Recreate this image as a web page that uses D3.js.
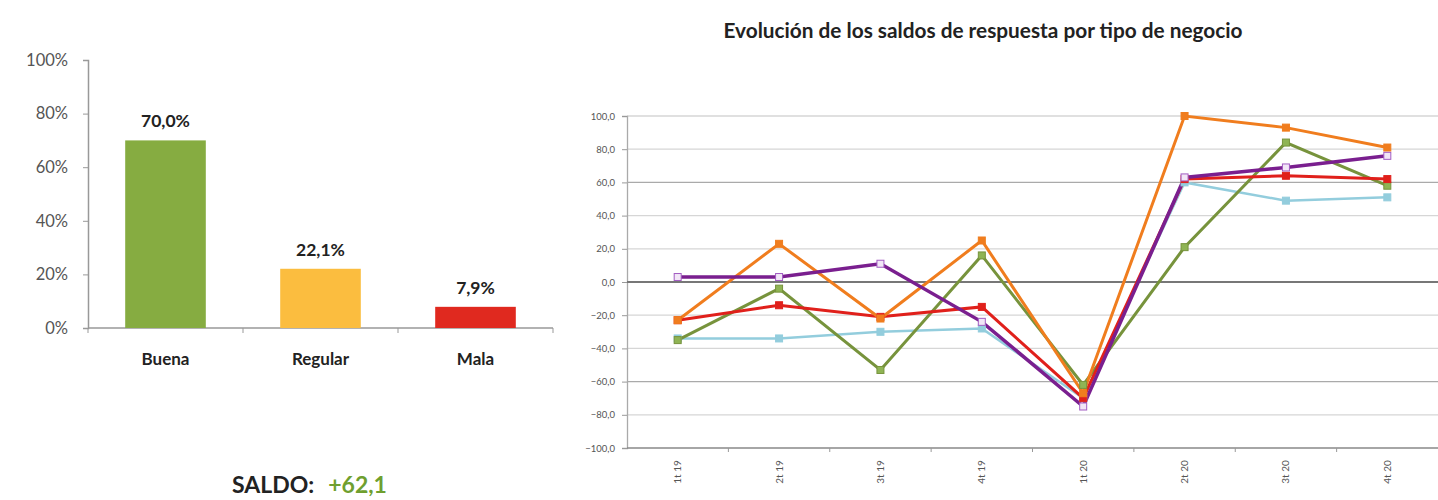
<!DOCTYPE html>
<html><head><meta charset="utf-8">
<script src="https://cdn.jsdelivr.net/npm/d3@7"></script>
<style>
html,body{margin:0;padding:0;background:#fff;}
svg{display:block;font-family:Lato,"Open Sans",sans-serif;}
</style></head>
<body>
<svg id="c" width="1438" height="500"></svg>
<script>
// ---- Data: left bar chart ----
const barCategories = ["Buena", "Regular", "Mala"];
const barValues = [70.0, 22.1, 7.9];
const barColors = ["#86ac41", "#fbbd3f", "#e0291f"];
const barTicks = [0, 20, 40, 60, 80, 100];
const saldoLabel = "SALDO:";
const saldoValue = "+62,1";

// ---- Data: right line chart ----
const quarters = ["1t 19", "2t 19", "3t 19", "4t 19", "1t 20", "2t 20", "3t 20", "4t 20"];
const lineTicks = [-100, -80, -60, -40, -20, 0, 20, 40, 60, 80, 100];
const seriesCyan   = [-34, -34, -30, -28, -70, 60, 49, 51];
const seriesGreen  = [-35, -4, -53, 16, -62, 21, 84, 58];
const seriesRed    = [-23, -14, -21, -15, -70, 62, 64, 62];
const seriesOrange = [-23, 23, -22, 25, -67, 100, 93, 81];
const seriesPurple = [3, 3, 11, -24, -75, 63, 69, 76];
const lineTitle = "Evolución de los saldos de respuesta por tipo de negocio";

const fmt = v => d3.format(".1f")(v).replace(".", ",");

const svg = d3.select("#c");

// ================= Left bar chart =================
{
  const x0 = 88, x1 = 553, yTop = 60, yBot = 328;
  const x = d3.scaleBand().domain(barCategories).range([x0, x1]).paddingInner(0.48).paddingOuter(0.24);
  const y = d3.scaleLinear().domain([0, 100]).range([yBot, yTop]);
  const g = svg.append("g");

  const ya = g.append("g").attr("transform", `translate(${x0},0)`)
    .call(d3.axisLeft(y).tickValues(barTicks).tickSize(5).tickPadding(15).tickFormat(d => d + "%"));
  ya.select(".domain").attr("stroke", "#999").attr("stroke-width", 1.5);
  ya.selectAll(".tick line").attr("stroke", "#999");
  ya.selectAll("text").attr("font-size", 16.5).attr("fill", "#555").attr("font-family", "Lato");

  const xa = g.append("g").attr("transform", `translate(0,${yBot})`);
  xa.append("line").attr("x1", x0).attr("x2", x1).attr("stroke", "#999").attr("stroke-width", 1.5);
  const bounds = barCategories.map((c, i) => x0 + i * (x1 - x0) / barCategories.length).concat([x1]);
  xa.selectAll("line.tk").data(bounds).enter().append("line").attr("class", "tk")
    .attr("x1", d => d).attr("x2", d => d).attr("y1", 0).attr("y2", 5).attr("stroke", "#999");

  g.selectAll("rect.bar").data(barValues).enter().append("rect").attr("class", "bar")
    .attr("x", (d, i) => x(barCategories[i]))
    .attr("width", x.bandwidth())
    .attr("y", d => y(d))
    .attr("height", d => yBot - y(d))
    .attr("fill", (d, i) => barColors[i]);

  g.selectAll("text.val").data(barValues).enter().append("text").attr("class", "val")
    .attr("x", (d, i) => x(barCategories[i]) + x.bandwidth() / 2)
    .attr("y", d => y(d) - 13)
    .attr("text-anchor", "middle").attr("font-size", 17.5).attr("font-weight", "bold").attr("fill", "#222")
    .text(d => fmt(d) + "%");

  g.selectAll("text.cat").data(barCategories).enter().append("text").attr("class", "cat")
    .attr("x", d => x(d) + x.bandwidth() / 2)
    .attr("y", yBot + 37)
    .attr("text-anchor", "middle").attr("font-size", 17).attr("font-weight", "bold").attr("fill", "#222")
    .text(d => d);

  const s = g.append("text").attr("x", 232).attr("y", 493).attr("text-anchor", "start")
    .attr("font-size", 23).attr("font-weight", "bold");
  s.append("tspan").attr("fill", "#222").text(saldoLabel);
  s.append("tspan").attr("fill", "#6f9f2f").attr("dx", 14).text(saldoValue);
}

// ================= Right line chart =================
{
  const x0 = 627, x1 = 1438, yTop = 116, yBot = 448;
  const x = d3.scalePoint().domain(quarters).range([x0, x1]).padding(0.5);
  const y = d3.scaleLinear().domain([-100, 100]).range([yBot, yTop]);
  const g = svg.append("g");

  g.append("text").attr("x", 983).attr("y", 38).attr("text-anchor", "middle")
    .attr("font-size", 20.8).attr("font-weight", "bold").attr("fill", "#222").text(lineTitle);

  g.selectAll("line.grid").data(lineTicks.filter(t => t !== 0 && t !== -100)).enter().append("line").attr("class", "grid")
    .attr("x1", x0).attr("x2", x1).attr("y1", d => y(d)).attr("y2", d => y(d))
    .attr("stroke", d => Math.abs(d) === 60 ? "#aaa" : "#d6d6d6").attr("stroke-width", 1.3);

  const ya = g.append("g").attr("transform", `translate(${x0},0)`)
    .call(d3.axisLeft(y).tickValues(lineTicks).tickSize(5).tickPadding(7).tickFormat(fmt));
  ya.select(".domain").attr("stroke", "#aaa").attr("stroke-width", 1.3);
  ya.selectAll(".tick line").attr("stroke", "#999");
  ya.selectAll("text").attr("font-size", 9.5).attr("fill", "#555").attr("font-family", "Lato");

  const xa = g.append("g").attr("transform", `translate(0,${yBot})`);
  xa.append("line").attr("x1", x0).attr("x2", x1).attr("stroke", "#888").attr("stroke-width", 1.3);
  const st = x.step();
  const bounds = quarters.map((q, i) => x(q) - st / 2).slice(1);
  xa.selectAll("line.tk").data(bounds).enter().append("line").attr("class", "tk")
    .attr("x1", d => d).attr("x2", d => d).attr("y1", 0).attr("y2", 4).attr("stroke", "#999");
  xa.selectAll("text.q").data(quarters).enter().append("text").attr("class", "q")
    .attr("transform", d => `translate(${x(d) + 3.5},${24}) rotate(-90)`)
    .attr("text-anchor", "middle").attr("font-size", 10).attr("fill", "#555").text(d => d);

  g.append("line").attr("x1", x0).attr("x2", x1).attr("y1", y(0)).attr("y2", y(0))
    .attr("stroke", "#777").attr("stroke-width", 2);

  const series = [
    {vals: seriesCyan, color: "#93cddd", w: 2.5, fill: "#93cddd"},
    {vals: seriesGreen, color: "#77933c", w: 3, fill: "#8fb454"},
    {vals: seriesRed, color: "#e0201b", w: 3, fill: "#e0201b"},
    {vals: seriesOrange, color: "#f07d1e", w: 3, fill: "#f07d1e"},
    {vals: seriesPurple, color: "#7a1f8f", w: 3.5, fill: "#f2e6f7", stroke: "#a25cc2"}
  ];
  const line = d3.line().x((d, i) => x(quarters[i])).y(d => y(d));
  series.forEach(s => {
    g.append("path").datum(s.vals).attr("d", line).attr("fill", "none")
      .attr("stroke", s.color).attr("stroke-width", s.w).attr("stroke-linejoin", "miter");
  });
  series.forEach(s => {
    g.selectAll(null).data(s.vals).enter().append("rect")
      .attr("x", (d, i) => x(quarters[i]) - 3.5).attr("y", d => y(d) - 3.5)
      .attr("width", 7).attr("height", 7)
      .attr("fill", s.fill).attr("stroke", s.stroke || s.color).attr("stroke-width", 1);
  });
}
</script>
</body></html>
